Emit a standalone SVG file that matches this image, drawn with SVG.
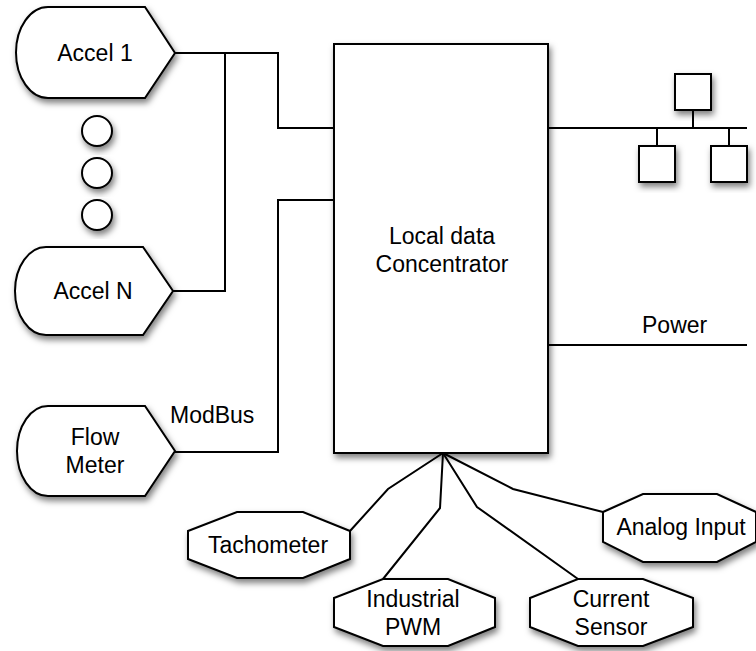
<svg xmlns="http://www.w3.org/2000/svg" width="756" height="651" viewBox="0 0 756 651">
<style>
.sh{fill:#fff;stroke:#000;stroke-width:2;filter:url(#ds)}
.ln{fill:none;stroke:#000;stroke-width:2}
.t{font-family:"Liberation Sans",Arial,sans-serif;font-size:23px;fill:#000;text-anchor:middle}
.tl{font-family:"Liberation Sans",Arial,sans-serif;font-size:23px;fill:#000}
</style>
<defs>
<filter id="ds" x="-20%" y="-20%" width="150%" height="150%">
<feDropShadow dx="2" dy="4" stdDeviation="3" flood-color="#000" flood-opacity="0.5"/>
</filter>
</defs>
<g id="connectors">
<path class="ln" d="M175,53 H278 V128 H334"/>
<path class="ln" d="M225,53 V291 H173"/>
<path class="ln" d="M334,200 H278 V452 H175"/>
<path class="ln" d="M548,128 H747"/>
<path class="ln" d="M693,110 V128 M657,128 V146 M729,128 V146"/>
<path class="ln" d="M548,345 H747"/>
<path class="ln" d="M443,453 L388,489 L350,531"/>
<path class="ln" d="M443,453 L440,508 L383,579"/>
<path class="ln" d="M443,453 L477,507 L578,579"/>
<path class="ln" d="M443,453 L513,489 L603,512"/>
</g>
<g id="concentrator">
<rect class="sh" x="334" y="44" width="214" height="409"/>
<text class="t" x="442" y="244">Local data</text>
<text class="t" x="442" y="272">Concentrator</text>
</g>
<g id="accel1">
<path class="sh" d="M48,7 L145,7 L175,53 L145,98 L48,98 A32 45.5 0 0 1 48,7 Z"/>
<text class="t" x="95" y="61">Accel 1</text>
</g>
<g id="dots">
<circle class="sh" cx="97" cy="131" r="15"/>
<circle class="sh" cx="97" cy="173" r="15"/>
<circle class="sh" cx="97" cy="215" r="15"/>
</g>
<g id="accelN">
<path class="sh" d="M46,247 L143,247 L173,291 L143,335 L46,335 A31 44 0 0 1 46,247 Z"/>
<text class="t" x="93" y="299">Accel N</text>
</g>
<g id="flowmeter">
<path class="sh" d="M48,406 L145,406 L175,451 L145,496 L48,496 A31 45 0 0 1 48,406 Z"/>
<text class="t" x="95" y="445">Flow</text>
<text class="t" x="95" y="473">Meter</text>
</g>
<g id="modbus-label">
<text class="tl" x="170" y="423">ModBus</text>
</g>
<g id="power-label">
<text class="tl" x="642" y="333">Power</text>
</g>
<g id="network">
<rect class="sh" x="675" y="74" width="36" height="36"/>
<rect class="sh" x="639" y="146" width="36" height="36"/>
<rect class="sh" x="711" y="146" width="36" height="36"/>
</g>
<g id="tachometer">
<polygon class="sh" points="237,512 303,512 350,531 350,559 303,578 237,578 188,559 188,531"/>
<text class="t" x="268" y="553">Tachometer</text>
</g>
<g id="pwm">
<polygon class="sh" points="383,579 448,579 495,598 495,627 448,646 383,646 334,627 334,598"/>
<text class="t" x="413" y="607">Industrial</text>
<text class="t" x="413" y="635">PWM</text>
</g>
<g id="current">
<polygon class="sh" points="578,579 643,579 693,598 693,627 643,646 578,646 530,627 530,598"/>
<text class="t" x="611" y="607">Current</text>
<text class="t" x="611" y="635">Sensor</text>
</g>
<g id="analog">
<polygon class="sh" points="643,494 717,494 756,512 756,542 717,562 643,562 603,542 603,512"/>
<text class="t" x="681" y="535">Analog Input</text>
</g>
</svg>
